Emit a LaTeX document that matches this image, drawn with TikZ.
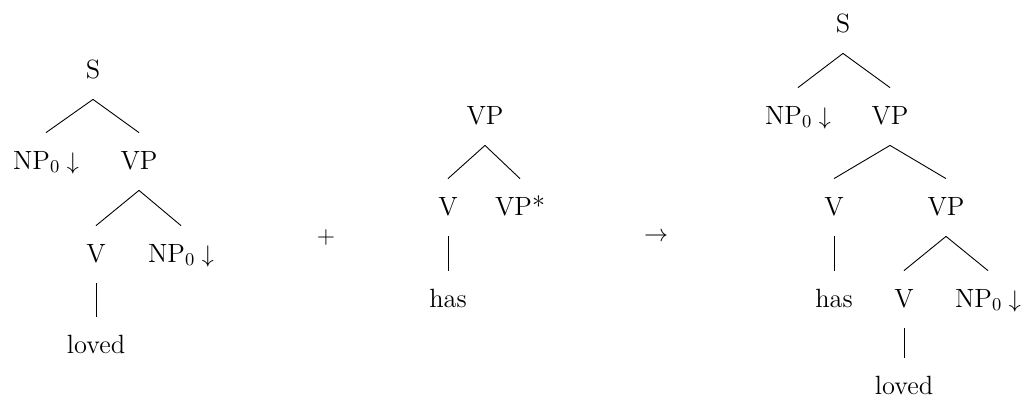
\documentclass[tikz,border=0pt]{standalone}
\begin{document}
\begin{tikzpicture}[x=0.5pt,y=-0.5pt,
  tn/.style={anchor=base, text height=8pt, text depth=0.5pt,
    inner ysep=10pt, inner xsep=0pt, font=\fontsize{13.2pt}{16pt}\selectfont},
  leaf/.style={tn, text depth=0pt, inner ysep=0pt, anchor=base},
  op/.style={anchor=center, inner sep=0pt, font=\fontsize{13.2pt}{16pt}\selectfont},
  br/.style={line width=0.45pt}]
\useasboundingbox (0,0) rectangle (1025,398);

% first elementary tree
\node[tn] (a-s)  at (93,78)   {S};
\node[tn] (a-np) at (46,169)  {NP$_0\downarrow$};
\node[tn] (a-vp) at (139,169) {VP};
\node[tn] (a-v)  at (96,262)  {V};
\node[tn] (a-no) at (181,262) {NP$_0\downarrow$};
\node[tn] (a-lv) at (96,353)  {loved};
\draw[br] (a-s.south) -- (a-np.north);
\draw[br] (a-s.south) -- (a-vp.north);
\draw[br] (a-vp.south) -- (a-v.north);
\draw[br] (a-vp.south) -- (a-no.north);
\draw[br] (a-v.south) -- (a-lv.north);

\node[op] (plus) at (326,237) {$+$};

% auxiliary tree
\node[tn] (b-vp) at (485,124) {VP};
\node[tn] (b-v)  at (448,215) {V};
\node[tn] (b-ft) at (520,215) {VP*};
\node[tn] (b-hs) at (448,307) {has};
\draw[br] (b-vp.south) -- (b-v.north);
\draw[br] (b-vp.south) -- (b-ft.north);
\draw[br] (b-v.south) -- (b-hs.north);

\node[op] (arr) at (656,237) {$\rightarrow$};

% derived tree
\node[tn] (c-s)   at (843,32)  {S};
\node[tn] (c-np)  at (798,124) {NP$_0\downarrow$};
\node[tn] (c-vp)  at (890,124) {VP};
\node[tn] (c-v)   at (834,215) {V};
\node[tn] (c-vp2) at (946,215) {VP};
\node[tn] (c-hs)  at (834,307) {has};
\node[tn] (c-v2)  at (904,307) {V};
\node[tn] (c-no)  at (988,307) {NP$_0\downarrow$};
\node[leaf] (c-lv) at (904,394) {loved};
\draw[br] (c-s.south) -- (c-np.north);
\draw[br] (c-s.south) -- (c-vp.north);
\draw[br] (c-vp.south) -- (c-v.north);
\draw[br] (c-vp.south) -- (c-vp2.north);
\draw[br] (c-v.south) -- (c-hs.north);
\draw[br] (c-vp2.south) -- (c-v2.north);
\draw[br] (c-vp2.south) -- (c-no.north);
\draw[br] (c-v2.south) -- ([yshift=10pt]c-lv.north);
\end{tikzpicture}
\end{document}
